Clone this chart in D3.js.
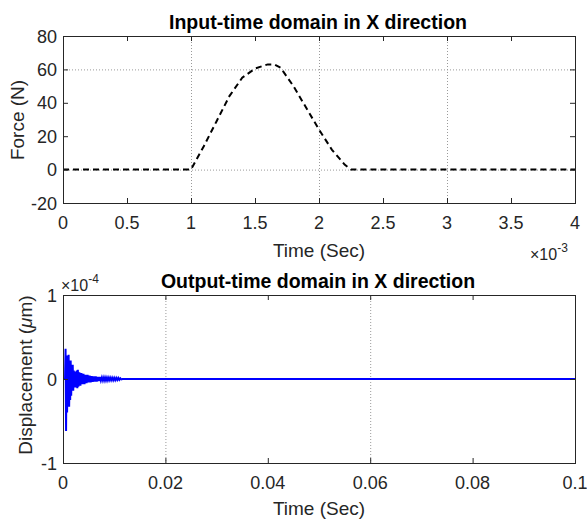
<!DOCTYPE html>
<html>
<head>
<meta charset="utf-8">
<script src="https://cdn.jsdelivr.net/npm/d3@7"></script>
<style>
  html, body { margin: 0; padding: 0; background: #fff; }
  svg { display: block; font-family: "Liberation Sans", Arial, sans-serif; }
  .tick-label { fill: #262626; font-size: 18px; }
  .ax-label { fill: #262626; font-size: 19px; }
  .title { fill: #000; font-size: 19.5px; font-weight: bold; }
</style>
</head>
<body>
<svg id="chart" width="587" height="522"></svg>
<script>
// ── input force (time in ms ×10^-3 s, force in N) ──
const inputT = [0, 1.0, 1.1, 1.2, 1.3, 1.4, 1.5, 1.6, 1.65, 1.7, 1.8, 1.9, 2.0, 2.1, 2.2, 2.25, 4.0];
const inputF = [0, 0, 14, 29, 44, 55, 60.5, 63, 63, 61, 50, 37, 24, 12, 3, 0, 0];

// ── output displacement (time in s, displacement ×10^-4 µm) ──
const outputT = [0, 0.0004, 0.0005, 0.0006, 0.0007, 0.0008, 0.0009, 0.0010, 0.0011, 0.0012, 0.0013,
  0.0014, 0.0015, 0.0016, 0.0017, 0.0018, 0.0019, 0.0020, 0.0021, 0.0022, 0.0023, 0.0024, 0.0025,
  0.0026, 0.0027, 0.0028, 0.0029, 0.0030, 0.0032, 0.0034, 0.0036, 0.0038, 0.0040, 0.0042, 0.0044,
  0.0046, 0.0048, 0.0050, 0.0052, 0.0054, 0.0056, 0.0058, 0.0060, 0.0062, 0.0064, 0.0066, 0.0068,
  0.0070, 0.0072, 0.0074, 0.0076, 0.0078, 0.0080, 0.0082, 0.0084, 0.0086, 0.0088, 0.0090, 0.0092,
  0.0094, 0.0096, 0.0098, 0.0100, 0.0102, 0.0104, 0.0106, 0.0108, 0.0110, 0.0112, 0.0114, 0.0116, 0.1];
const outputD = [0, 0, 0.36, -0.62, 0.28, -0.40, 0.20, -0.22, 0.29, -0.33, 0.18,
  -0.25, 0.22, -0.20, 0.15, -0.12, 0.17, -0.14, 0.10, -0.09, 0.08, -0.10, 0.09,
  -0.07, 0.10, -0.11, 0.11, -0.09, 0.08, -0.08, 0.07, -0.06, 0.06, -0.06, 0.05,
  -0.05, 0.05, -0.04, 0.04, -0.04, 0.035, -0.035, 0.03, -0.03, 0.03, -0.03, 0.025,
  -0.025, 0.025, -0.02, 0.02, -0.02, 0.02, -0.02, 0.018, -0.018, 0.018, -0.016, 0.016,
  -0.016, 0.015, -0.015, 0.014, -0.014, 0.013, -0.012, 0.012, -0.01, 0.008, -0.005, 0, 0];

// ── ticks & grid ──
const topXTicks = [0, 0.5, 1, 1.5, 2, 2.5, 3, 3.5, 4];
const topYTicks = [-20, 0, 20, 40, 60, 80];
const topGridX = [1, 2, 3];
const topGridY = [0, 60];
const botXTicks = [0, 0.02, 0.04, 0.06, 0.08, 0.1];
const botYTicks = [-1, 0, 1];
const botGridX = [0.02, 0.06];

const svg = d3.select('#chart');
const L = 63, R = 575;

// ── helper: draw one MATLAB-like axes ─────────────────────────────
function axes(o) {
  const x = d3.scaleLinear().domain(o.xDom).range([L, R]);
  const y = d3.scaleLinear().domain(o.yDom).range([o.bottom, o.top]);
  const g = svg.append('g');

  // grid (dotted)
  g.selectAll('line.gx').data(o.gridX).enter().append('line')
    .attr('x1', d => x(d) + 0.5).attr('x2', d => x(d) + 0.5)
    .attr('y1', o.top).attr('y2', o.bottom)
    .attr('stroke', '#9a9a9a').attr('stroke-width', 1).attr('stroke-dasharray', '1,2');
  g.selectAll('line.gy').data(o.gridY).enter().append('line')
    .attr('y1', d => y(d) + 0.5).attr('y2', d => y(d) + 0.5)
    .attr('x1', L).attr('x2', R)
    .attr('stroke', '#9a9a9a').attr('stroke-width', 1).attr('stroke-dasharray', '1,2');

  // data
  const line = d3.line().x(d => x(d[0])).y(d => y(d[1]));
  g.append('path')
    .datum(o.xs.map((t, i) => [t, o.ys[i]]))
    .attr('d', line)
    .attr('fill', 'none')
    .attr('stroke', o.color)
    .attr('stroke-width', o.width)
    .attr('stroke-dasharray', o.dash || null);

  // ticks (inside, all four sides)
  const tl = 5;
  o.xTicks.forEach(t => {
    g.append('line').attr('x1', x(t) + 0.5).attr('x2', x(t) + 0.5)
      .attr('y1', o.bottom).attr('y2', o.bottom - tl).attr('stroke', '#262626');
    g.append('line').attr('x1', x(t) + 0.5).attr('x2', x(t) + 0.5)
      .attr('y1', o.top).attr('y2', o.top + tl).attr('stroke', '#262626');
    g.append('text').attr('class', 'tick-label')
      .attr('x', x(t)).attr('y', o.bottom + 26).attr('text-anchor', 'middle')
      .text(o.xFmt(t));
  });
  o.yTicks.forEach(t => {
    g.append('line').attr('x1', L).attr('x2', L + tl)
      .attr('y1', y(t) + 0.5).attr('y2', y(t) + 0.5).attr('stroke', '#262626');
    g.append('line').attr('x1', R).attr('x2', R - tl)
      .attr('y1', y(t) + 0.5).attr('y2', y(t) + 0.5).attr('stroke', '#262626');
    g.append('text').attr('class', 'tick-label')
      .attr('x', 57).attr('y', y(t) + 6.5).attr('text-anchor', 'end')
      .text(t);
  });

  // box
  g.append('rect').attr('x', L + 0.5).attr('y', o.top + 0.5)
    .attr('width', R - L).attr('height', o.bottom - o.top)
    .attr('fill', 'none').attr('stroke', '#262626').attr('stroke-width', 1);

  // title
  g.append('text').attr('class', 'title')
    .attr('x', 318).attr('y', o.top - 7).attr('text-anchor', 'middle').text(o.title);
  return { x, y, g };
}

// ── top: input force ──
const A = axes({
  top: 36, bottom: 203, xDom: [0, 4], yDom: [-20, 80],
  xTicks: topXTicks, yTicks: topYTicks, gridX: topGridX, gridY: topGridY,
  xs: inputT, ys: inputF, color: '#000', width: 2, dash: '6,4',
  xFmt: d => d, title: 'Input-time domain in X direction'
});
A.g.append('text').attr('class', 'ax-label')
  .attr('x', 319).attr('y', 257).attr('text-anchor', 'middle').text('Time (Sec)');
A.g.append('text').attr('class', 'ax-label')
  .attr('transform', 'translate(24,120) rotate(-90)').attr('text-anchor', 'middle').text('Force (N)');
const e3 = A.g.append('text').attr('class', 'tick-label').attr('x', 530).attr('y', 260);
e3.append('tspan').style('font-size', '16px').text('×10');
e3.append('tspan').style('font-size', '12px').attr('dy', -8).text('-3');

// ── bottom: output displacement ──
const B = axes({
  top: 295, bottom: 463, xDom: [0, 0.1], yDom: [-1, 1],
  xTicks: botXTicks, yTicks: botYTicks, gridX: botGridX, gridY: [],
  xs: outputT, ys: outputD, color: '#0000ff', width: 2,
  xFmt: d => d, title: 'Output-time domain in X direction'
});
B.g.append('text').attr('class', 'ax-label')
  .attr('x', 319).attr('y', 515).attr('text-anchor', 'middle').text('Time (Sec)');
const dl = B.g.append('text').attr('class', 'ax-label')
  .attr('transform', 'translate(32,375) rotate(-90)').attr('text-anchor', 'middle');
dl.append('tspan').text('Displacement (');
dl.append('tspan').style('font-style', 'italic').text('μ');
dl.append('tspan').text('m)');
const e4 = B.g.append('text').attr('class', 'tick-label').attr('x', 61).attr('y', 291);
e4.append('tspan').style('font-size', '16px').text('×10');
e4.append('tspan').style('font-size', '12px').attr('dy', -8).text('-4');
</script>
</body>
</html>
